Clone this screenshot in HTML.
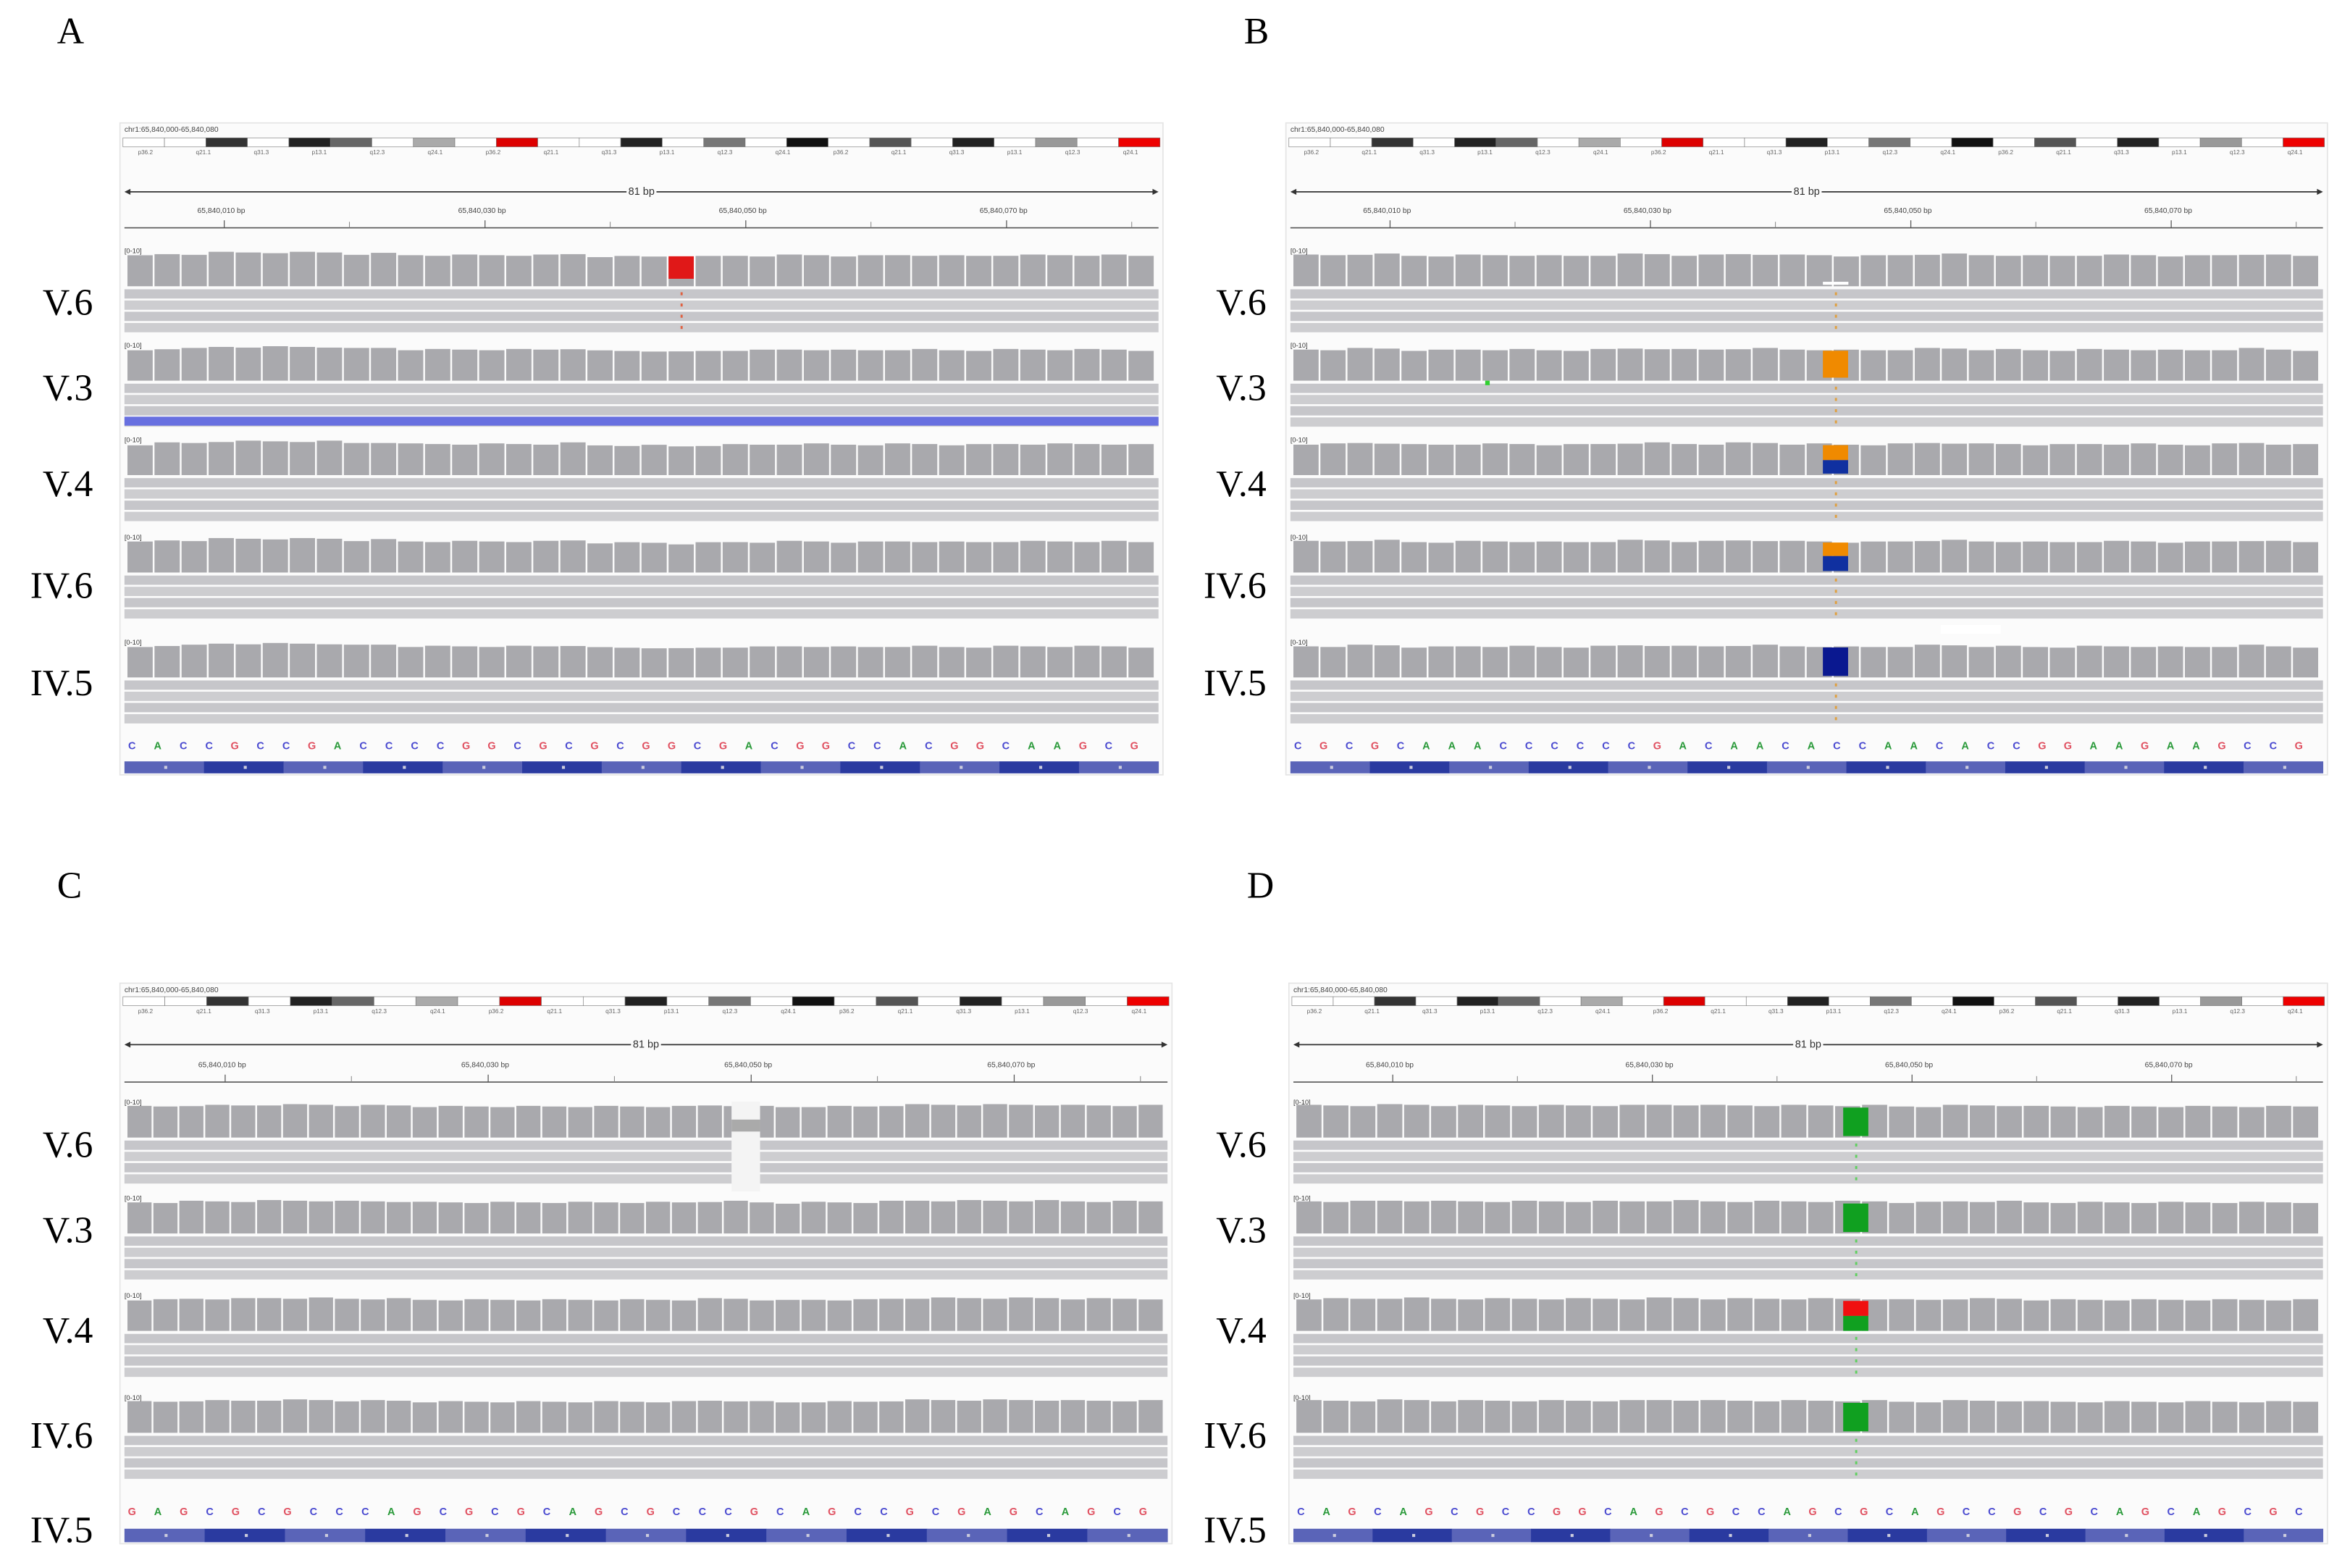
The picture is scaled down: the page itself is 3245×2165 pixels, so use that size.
<!DOCTYPE html>
<html><head><meta charset="utf-8"><style>
html,body{margin:0;padding:0;background:#fff;width:3245px;height:2165px;overflow:hidden}
svg{display:block}
</style></head><body>
<svg id="fig" width="3245" height="2165" viewBox="0 0 1568 1046.2" xmlns="http://www.w3.org/2000/svg" font-family="Liberation Serif, serif"></svg>
<script>
// coverage relative heights per column (0..1)
const coverageA = [0.9,0.95,0.95,1,1,1,1,1,0.95,0.97,0.92,0.92,0.92,0.92,0.92,0.92,0.95,0.88,0.88,0.88,0.85,0.88,0.9,0.9,0.92,0.92,0.9,0.9,0.92,0.92,0.9,0.9,0.92,0.92,0.92,0.92,0.92,0.9];
const coverageB = [0.92,0.92,0.95,0.95,0.9,0.9,0.92,0.92,0.92,0.9,0.9,0.92,0.95,0.95,0.92,0.92,0.95,0.95,0.92,0.92,0.9,0.9,0.92,0.95,0.95,0.92,0.92,0.9,0.9,0.92,0.92,0.92,0.9,0.9,0.92,0.95,0.92,0.9];
const coverageC = [0.92,0.92,0.95,0.95,0.95,0.97,0.97,0.97,0.95,0.95,0.95,0.92,0.92,0.92,0.92,0.92,0.92,0.92,0.92,0.92,0.92,0.92,0.95,0.95,0.92,0.9,0.92,0.92,0.92,0.95,0.97,0.97,0.97,0.97,0.97,0.97,0.95,0.95,0.95,0.95];
const coverageD = [0.95,0.95,0.95,0.97,0.97,0.95,0.95,0.95,0.95,0.95,0.95,0.95,0.95,0.97,0.97,0.95,0.95,0.95,0.95,0.95,0.95,0.95,0.92,0.92,0.95,0.95,0.95,0.92,0.92,0.92,0.92,0.92,0.92,0.92,0.92,0.92,0.92,0.92];
const basesA = "CACCGCCGACCCCGGCGCGCGGCGACGGCCACGGCAAGCG";
const basesB = "CGCGCAAACCCCCCGACAACACCAACACCGGAAGAAGCCG";
const basesC = "GAGCGCGCCCAGCGCGCAGCGCCCGCAGCCGCGAGCAGCG";
const basesD = "CAGCAGCGCCGGCAGCGCCAGCGCAGCCGCGCAGCAGCGC";
const rowLabelsAB = ["V.6","V.3","V.4","IV.6","IV.5"];
const rowLabelsCD = ["V.6","V.3","V.4","IV.6"];

const NS="http://www.w3.org/2000/svg";
const svg=document.getElementById('fig');
function mk(tag,attrs,parent){const e=document.createElementNS(NS,tag);for(const k in attrs)e.setAttribute(k,attrs[k]);(parent||svg).appendChild(e);return e;}
const baseColor={A:'#2a9a3a',C:'#4a4ad0',G:'#e05060',T:'#e0a020'};

function panel(p){
  const g=mk('g',{});
  
  
  const W=p.x1-p.x0;
  mk('rect',{x:p.x0,y:p.top,width:W,height:p.bottom-p.top,fill:'#fbfbfb',stroke:'#e4e4e4','stroke-width':0.8},g);
  const ht=mk('text',{x:p.x0+3,y:p.top+6,'font-size':5,'font-family':'Liberation Sans, sans-serif',fill:'#444'},g);
  ht.textContent='chr1:65,840,000-65,840,080';
  const ig=mk('g',{},g);
  
  
  const cols=['#fff','#fff','#333','#fff','#222','#666','#fff','#aaa','#fff','#d00','#fff','#fff','#222','#fff','#777','#fff','#111','#fff','#555','#fff','#222','#fff','#999','#fff','#e00'];
  const segW=(W-4)/cols.length;
  cols.forEach((c,i)=>{mk('rect',{x:p.x0+2+i*segW,y:p.ideo,width:segW,height:6,fill:c,stroke:'#777','stroke-width':0.3},ig);});
  for(let i=0;i<18;i++){const t=mk('text',{x:p.x0+12+i*W/18,y:p.ideo+11,'font-size':4,'font-family':'Liberation Sans, sans-serif',fill:'#666'},ig);t.textContent=['p36.2','q21.1','q31.3','p13.1','q12.3','q24.1'][i%6];}
  mk('line',{x1:p.x0+4,y1:p.arrow,x2:p.x1-4,y2:p.arrow,stroke:'#333','stroke-width':0.8},g);
  mk('path',{d:`M${p.x0+3},${p.arrow} l4,-2 v4z`,fill:'#333'},g);
  mk('path',{d:`M${p.x1-3},${p.arrow} l-4,-2 v4z`,fill:'#333'},g);
  mk('rect',{x:(p.x0+p.x1)/2-10,y:p.arrow-4,width:20,height:8,fill:'#fbfbfb'},g);
  const bp=mk('text',{x:(p.x0+p.x1)/2,y:p.arrow+2,'font-size':7,'text-anchor':'middle','font-family':'Liberation Sans, sans-serif',fill:'#333'},g);bp.textContent='81 bp';
  mk('line',{x1:p.x0+3,y1:p.ruler,x2:p.x1-3,y2:p.ruler,stroke:'#555','stroke-width':0.8},g);
  for(let i=0;i<4;i++){
    const tx=p.x0+W*(0.1+i*0.25);
    mk('line',{x1:tx,y1:p.ruler-5,x2:tx,y2:p.ruler,stroke:'#555','stroke-width':0.6},g);
    const t=mk('text',{x:tx-2,y:p.ruler-10,'font-size':5,'text-anchor':'middle','font-family':'Liberation Sans, sans-serif',fill:'#444'},g);
    t.textContent='65,840,0'+(10+i*20)+' bp';
    mk('line',{x1:p.x0+W*(0.22+i*0.25),y1:p.ruler-4,x2:p.x0+W*(0.22+i*0.25),y2:p.ruler,stroke:'#888','stroke-width':0.5},g);
  }
  const n=p.cov.length; const cw=(W-10)/n;
  p.tracks.forEach((ty,ti)=>{
    const tg=mk('g',{},g);
    
    
    const lt=mk('text',{x:p.x0+3,y:ty+4,'font-size':4.5,'font-family':'Liberation Sans, sans-serif',fill:'#333'},tg);lt.textContent='[0-10]';
    const cb=ty+26, maxH=23;
    p.cov.forEach((v,i)=>{
      const h=maxH*v*(1-0.02*((ti+i)%3));
      const r=mk('rect',{x:p.x0+5+i*cw,y:cb-h,width:cw-1.2,height:h,fill:'#a9a9ad'},tg);
      
      
    });
    for(let r=0;r<4;r++){
      mk('rect',{x:p.x0+3,y:ty+28+r*7.5,width:W-6,height:6.2,fill:r%2?'#cdcdd0':'#c6c6ca'},tg);
    }
    if(p.marks&&p.marks[ti]){
      const m=p.marks[ti]; const mx=p.x0+5+m.col*cw;
      if(m.type==='gap'){mk('rect',{x:mx,y:ty+2,width:cw*1.1,height:60,fill:'#f4f4f4'},tg);mk('rect',{x:mx,y:ty+14,width:cw*1.1,height:8,fill:'#aaa'},tg);}
      else if(m.type==='line'){mk('rect',{x:mx,y:cb-3,width:cw-1,height:2,fill:'#fff'},tg);}
      else{
        let yy=cb-20;
        m.parts.forEach(([c,f])=>{mk('rect',{x:mx,y:yy,width:cw-1.2,height:20*f,fill:c},tg);yy+=20*f;});
      }
      if(m.type!=='gap') for(let r=0;r<4;r++) mk('rect',{x:mx+cw/2-1,y:ty+30+r*7.5,width:1.4,height:2,fill:m.dot||'#e0a040'},tg);
    }
    if(p.extra&&p.extra[ti]){const e=p.extra[ti];mk(e.tag,e.a,tg);}
    const L=mk('text',{x:p.labelX,y:p.labelY[ti],'font-size':25,'text-anchor':'end',fill:'#000'});
    
    
    L.textContent=p.labels[ti];
  });
  if(p.lastLabelY){const L=mk('text',{x:p.labelX,y:p.lastLabelY,'font-size':25,'text-anchor':'end',fill:'#000'});
    
    
    L.textContent='IV.5';}
  const bg=mk('g',{},g);
  
  
  const nb=p.bases.length; const bw=(W-10)/nb;
  for(let i=0;i<nb;i++){const ch=p.bases[i];const t=mk('text',{x:p.x0+8+i*bw,y:p.basesY+3,'font-size':7,'text-anchor':'middle','font-family':'Liberation Sans, sans-serif','font-weight':'bold',fill:baseColor[ch]},bg);t.textContent=ch;}
  const gb=mk('g',{},g);
  
  
  const segs=13;const sw=(W-6)/segs;
  for(let i=0;i<segs;i++){mk('rect',{x:p.x0+3+i*sw,y:p.barY,width:sw+0.2,height:p.barH,fill:i%2?'#2a3aa0':'#5a64b8'},gb);
    mk('rect',{x:p.x0+3+i*sw+sw/2,y:p.barY+p.barH/2-1,width:2,height:2,fill:'#ccd'},gb);}
  const pl=mk('text',{x:p.letterX,y:p.letterY,'font-size':25,fill:'#000'});
  
  
  pl.textContent=p.id.toUpperCase();
}

const topAB={top:82,ideo:92,arrow:128,ruler:152,tracks:[165,228,291,356,426],basesY:497,barY:508,barH:8,bottom:517,labels:rowLabelsAB,labelY:[210,267,331,399,464]};
const topCD={top:656,ideo:665,arrow:697,ruler:722,tracks:[733,797,862,930],basesY:1008,barY:1020,barH:9,bottom:1030,labels:rowLabelsCD,labelY:[772,829,896,966],lastLabelY:1029};
panel(Object.assign({},topAB,{id:'a',x0:80,x1:776,cov:coverageA,bases:basesA,labelX:62,letterX:38,letterY:29,
  marks:{0:{type:'fill',col:20,parts:[['#e01818',0.75]],dot:'#e06040'}},
  extra:{1:{tag:'rect',a:{x:83,y:278,width:690,height:6,fill:'#6870e0'}}}}));
panel(Object.assign({},topAB,{id:'b',x0:858,x1:1553,cov:coverageB,bases:basesB,labelX:845,letterX:830,letterY:29,
  marks:{0:{type:'line',col:19.6},1:{type:'fill',col:19.6,parts:[['#f08a00',0.9]]},2:{type:'fill',col:19.6,parts:[['#f08a00',0.5],['#1030a0',0.45]]},3:{type:'fill',col:19.6,parts:[['#f08a00',0.45],['#1030a0',0.5]]},4:{type:'fill',col:19.6,parts:[['#0a1890',0.95]]}},
  extra:{1:{tag:'rect',a:{x:991,y:254,width:3,height:3,fill:'#30d030'}},3:{tag:'rect',a:{x:1295,y:417,width:40,height:6,fill:'#fff'}}}}));
panel(Object.assign({},topCD,{id:'c',x0:80,x1:782,cov:coverageC,bases:basesC,labelX:62,letterX:38,letterY:599,
  marks:{0:{type:'gap',col:23.3}}}));
panel(Object.assign({},topCD,{id:'d',x0:860,x1:1553,cov:coverageD,bases:basesD,labelX:845,letterX:832,letterY:599,
  marks:{0:{type:'fill',col:20.3,parts:[['#10a020',0.95]],dot:'#60d060'},1:{type:'fill',col:20.3,parts:[['#10a020',0.95]],dot:'#60d060'},2:{type:'fill',col:20.3,parts:[['#f01010',0.5],['#10a020',0.5]],dot:'#60d060'},3:{type:'fill',col:20.3,parts:[['#10a020',0.95]],dot:'#60d060'}}}));
</script>
</body></html>
